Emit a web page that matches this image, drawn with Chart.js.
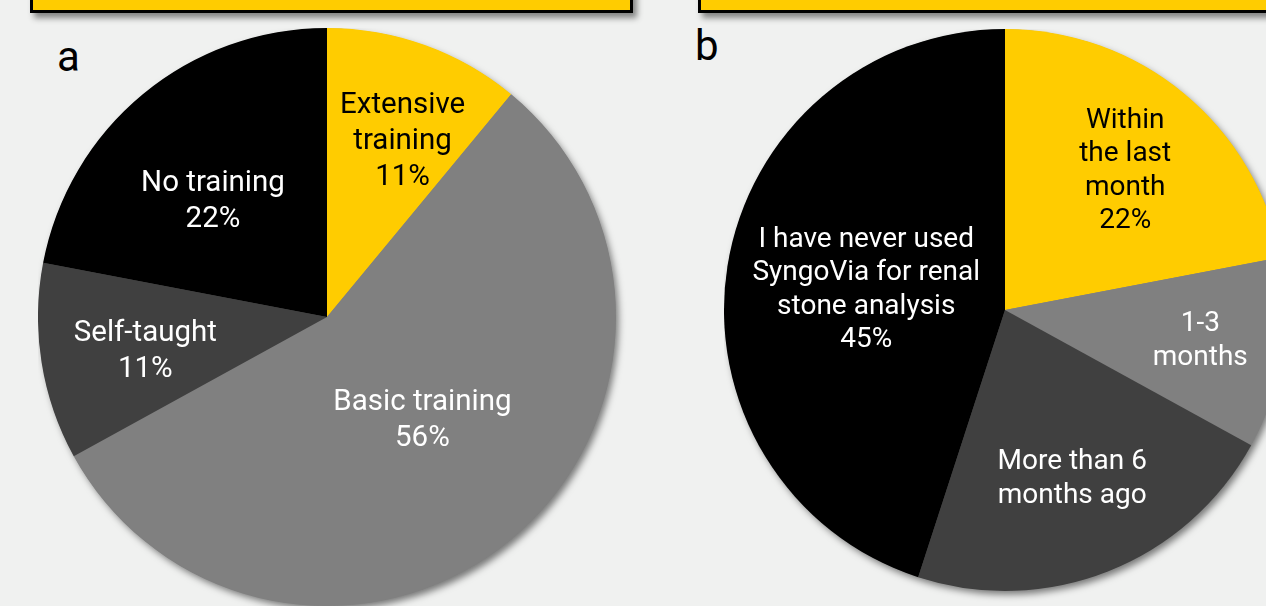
<!DOCTYPE html>
<html>
<head>
<meta charset="utf-8">
<script src="https://cdn.jsdelivr.net/npm/chart.js@4"></script>
<style>
    html, body { margin: 0; padding: 0; }
    body {
        width: 1266px; height: 606px; overflow: hidden; position: relative;
        background: #f0f1f0; font-family: Roboto, sans-serif;
    }
    .title-box {
        position: absolute; top: -30px; height: 37px;
        background: #ffcc00; border: 3px solid #000;
        box-shadow: 4px 5px 6px rgba(0, 0, 0, 0.45);
    }
    .panel-letter { position: absolute; font-size: 42px; color: #000; line-height: 1; }
    .pie-wrap { position: absolute; }
</style>
</head>
<body>
<div class="title-box" style="left:30px; width:597px;"></div>
<div class="title-box" style="left:698px; width:620px;"></div>
<div class="panel-letter" style="left:57px; top:36px;">a</div>
<div class="panel-letter" style="left:695px; top:25px;">b</div>
<div class="pie-wrap" style="left:38px; top:28px; width:592px; height:592px;"><canvas id="pie-a"></canvas></div>
<div class="pie-wrap" style="left:724px; top:29px; width:576px; height:576px;"><canvas id="pie-b"></canvas></div>

<script>
// panel a: training received
var trainingLabels = ['Extensive training', 'Basic training', 'Self-taught', 'No training'];
var trainingValues = [11, 56, 11, 22];
var trainingShowPct = [true, true, true, true];

// panel b: last use of SyngoVia
var lastUseLabels = ['Within the last month', '1-3 months', 'More than 6 months ago', 'I have never used SyngoVia for renal stone analysis'];
var lastUseValues = [22, 11, 22, 45];
var lastUseShowPct = [true, false, false, true];

var sliceColors = ['#ffcc00', '#808080', '#404040', '#000000'];
var textColors = ['#000000', '#ffffff', '#ffffff', '#ffffff'];

// how the label text is broken into lines, and where it sits in the slice
var trainingLines = [['Extensive', 'training'], ['Basic training'], ['Self-taught'], ['No training']];
var trainingLabelPos = { radius: [0.67, 0.48, 0.64, 0.57], nudge: [[10, 7], [7, -3], [1, 6], [-9, 12]], size: 29.5, lineHeight: 36 };
var lastUseLines = [['Within', 'the last', 'month'], ['1-3', 'months'], ['More than 6', 'months ago'], ['I have never used', 'SyngoVia for renal', 'stone analysis']];
var lastUseLabelPos = { radius: [0.66, 0.70, 0.64, 0.50], nudge: [[2, 4], [1, 0], [1, 2], [0, 2]], size: 28, lineHeight: 33.5 };

// drop shadow under the whole pie
var pieShadow = {
    id: 'pieShadow',
    beforeDatasetsDraw: function (chart) {
        var arc = chart.getDatasetMeta(0).data[0];
        if (!arc) return;
        var ctx = chart.ctx;
        ctx.save();
        ctx.shadowColor = 'rgba(0,0,0,0.5)';
        ctx.shadowBlur = 7;
        ctx.shadowOffsetX = 3;
        ctx.shadowOffsetY = 4;
        ctx.fillStyle = '#808080';
        ctx.beginPath();
        ctx.arc(arc.x, arc.y, arc.outerRadius - 0.5, 0, Math.PI * 2);
        ctx.fill();
        ctx.restore();
    }
};

var sliceText = {
    id: 'sliceText',
    afterDatasetsDraw: function (chart, args, opts) {
        var ctx = chart.ctx;
        var values = chart.data.datasets[0].data;
        var total = values.reduce((a, b) => a + b, 0);
        var pos = opts.pos;
        ctx.save();
        ctx.font = pos.size + 'px Roboto';
        ctx.textAlign = 'center';
        ctx.textBaseline = 'middle';
        chart.getDatasetMeta(0).data.forEach(function (arc, i) {
            var mid = (arc.startAngle + arc.endAngle) / 2;
            var r = arc.outerRadius * pos.radius[i];
            var cx = arc.x + Math.cos(mid) * r + pos.nudge[i][0];
            var cy = arc.y + Math.sin(mid) * r + pos.nudge[i][1];
            var lines = opts.lines[i].slice();
            if (opts.showPct[i]) lines.push(Math.round(values[i] / total * 100) + '%');
            var y0 = cy - (lines.length - 1) * pos.lineHeight / 2;
            ctx.fillStyle = textColors[i];
            lines.forEach(function (t, k) {
                ctx.fillText(t, cx, y0 + k * pos.lineHeight);
            });
        });
        ctx.restore();
    }
};

function makePie(id, labels, values, lines, pos, showPct) {
    new Chart(document.getElementById(id), {
        type: 'pie',
        data: {
            labels: labels,
            datasets: [{
                data: values,
                backgroundColor: sliceColors,
                borderWidth: 0
            }]
        },
        options: {
            responsive: true,
            maintainAspectRatio: false,
            animation: false,
            layout: { padding: { right: 14, bottom: 14 } },
            plugins: {
                legend: { display: false },
                tooltip: { enabled: false },
                sliceText: { lines: lines, pos: pos, showPct: showPct }
            }
        },
        plugins: [pieShadow, sliceText]
    });
}

makePie('pie-a', trainingLabels, trainingValues, trainingLines, trainingLabelPos, trainingShowPct);
makePie('pie-b', lastUseLabels, lastUseValues, lastUseLines, lastUseLabelPos, lastUseShowPct);
</script>
</body>
</html>
